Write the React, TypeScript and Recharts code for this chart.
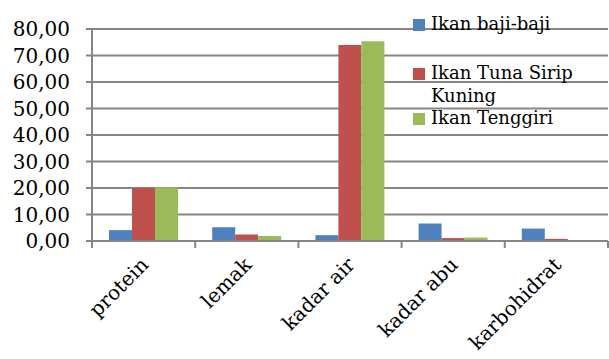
import React from "react";
import { BarChart, Bar, XAxis, YAxis, CartesianGrid, Legend } from "recharts";

const categories = ["protein", "lemak", "kadar air", "kadar abu", "karbohidrat"];
const seriesNames = ["Ikan baji-baji", "Ikan Tuna Sirip Kuning", "Ikan Tenggiri"];
const bajiValues = [4.1, 5.2, 2.2, 6.6, 4.7];
const tunaValues = [20.0, 2.5, 74.0, 1.1, 0.8];
const tenggiriValues = [20.2, 1.9, 75.4, 1.3, 0.1];
const yTicks = [0, 10, 20, 30, 40, 50, 60, 70, 80];
const colors = ["#4F81BD", "#C0504D", "#9BBB59"];

const data = categories.map((c, i) => ({
  name: c,
  baji: bajiValues[i],
  tuna: tunaValues[i],
  tenggiri: tenggiriValues[i],
}));

const FONT = "'DejaVu Serif', serif";
const GRID = "#868686";
const BAND = 516 / categories.length;

function XTick(props: any) {
  const { x, y, payload, index } = props;
  const left = x - BAND / 2;
  const tx = x + 6;
  const ty = y + 17;
  return (
    <g>
      <line x1={left} y1={y - 8} x2={left} y2={y - 1} stroke={GRID} strokeWidth={2} />
      {index === categories.length - 1 && (
        <line x1={x + BAND / 2} y1={y - 8} x2={x + BAND / 2} y2={y - 1} stroke={GRID} strokeWidth={2} />
      )}
      <text
        x={tx}
        y={ty}
        transform={`rotate(-45, ${tx}, ${ty})`}
        textAnchor="end"
        fontFamily={FONT}
        fontSize={20}
        fill="#000"
      >
        {payload.value}
      </text>
    </g>
  );
}

function LegendBox() {
  const rows = [
    { lines: ["Ikan baji-baji"], top: 6, color: colors[0] },
    { lines: ["Ikan Tuna Sirip", "Kuning"], top: 55, color: colors[1] },
    { lines: ["Ikan Tenggiri"], top: 100, color: colors[2] },
  ];
  return (
    <div style={{ position: "relative", width: 190, height: 130 }}>
      {rows.map((r, i) => (
        <div key={i} style={{ position: "absolute", top: r.top, left: 0 }}>
          <div
            style={{
              position: "absolute",
              left: 0,
              top: 7,
              width: 12,
              height: 12,
              background: r.color,
            }}
          />
          <div
            style={{
              position: "absolute",
              left: 18,
              top: 0,
              fontFamily: FONT,
              fontSize: 18,
              lineHeight: "23px",
              whiteSpace: "nowrap",
              color: "#000",
            }}
          >
            {r.lines.map((l, j) => (
              <div key={j}>{l}</div>
            ))}
          </div>
        </div>
      ))}
    </div>
  );
}

export default function App() {
  return (
    <div style={{ position: "absolute", left: 0, top: 0, background: "#fff" }}>
      <BarChart
        width={609}
        height={359}
        data={data}
        margin={{ top: 29, right: 1, left: 0, bottom: 0 }}
        barCategoryGap={17}
        barGap={0}
      >
        <CartesianGrid vertical={false} stroke={GRID} strokeWidth={2} />
        <XAxis
          dataKey="name"
          height={118}
          axisLine={{ stroke: GRID, strokeWidth: 2 }}
          tickLine={false}
          tick={<XTick />}
          interval={0}
        />
        <YAxis
          width={92}
          domain={[0, 80]}
          ticks={yTicks}
          interval={0}
          axisLine={{ stroke: GRID, strokeWidth: 2 }}
          tickLine={{ stroke: GRID, strokeWidth: 2 }}
          tickSize={6}
          tickMargin={16}
          tickFormatter={(v: number) => v.toFixed(2).replace(".", ",")}
          tick={{ fontFamily: FONT, fontSize: 20, fill: "#000" }}
        />
        <Legend
          layout="vertical"
          align="center"
          verticalAlign="middle"
          wrapperStyle={{ position: "absolute", left: 413, top: 6, width: 190 }}
          content={() => <LegendBox />}
        />
        <Bar dataKey="baji" name={seriesNames[0]} fill={colors[0]} isAnimationActive={false} />
        <Bar dataKey="tuna" name={seriesNames[1]} fill={colors[1]} isAnimationActive={false} />
        <Bar dataKey="tenggiri" name={seriesNames[2]} fill={colors[2]} isAnimationActive={false} />
      </BarChart>
    </div>
  );
}
